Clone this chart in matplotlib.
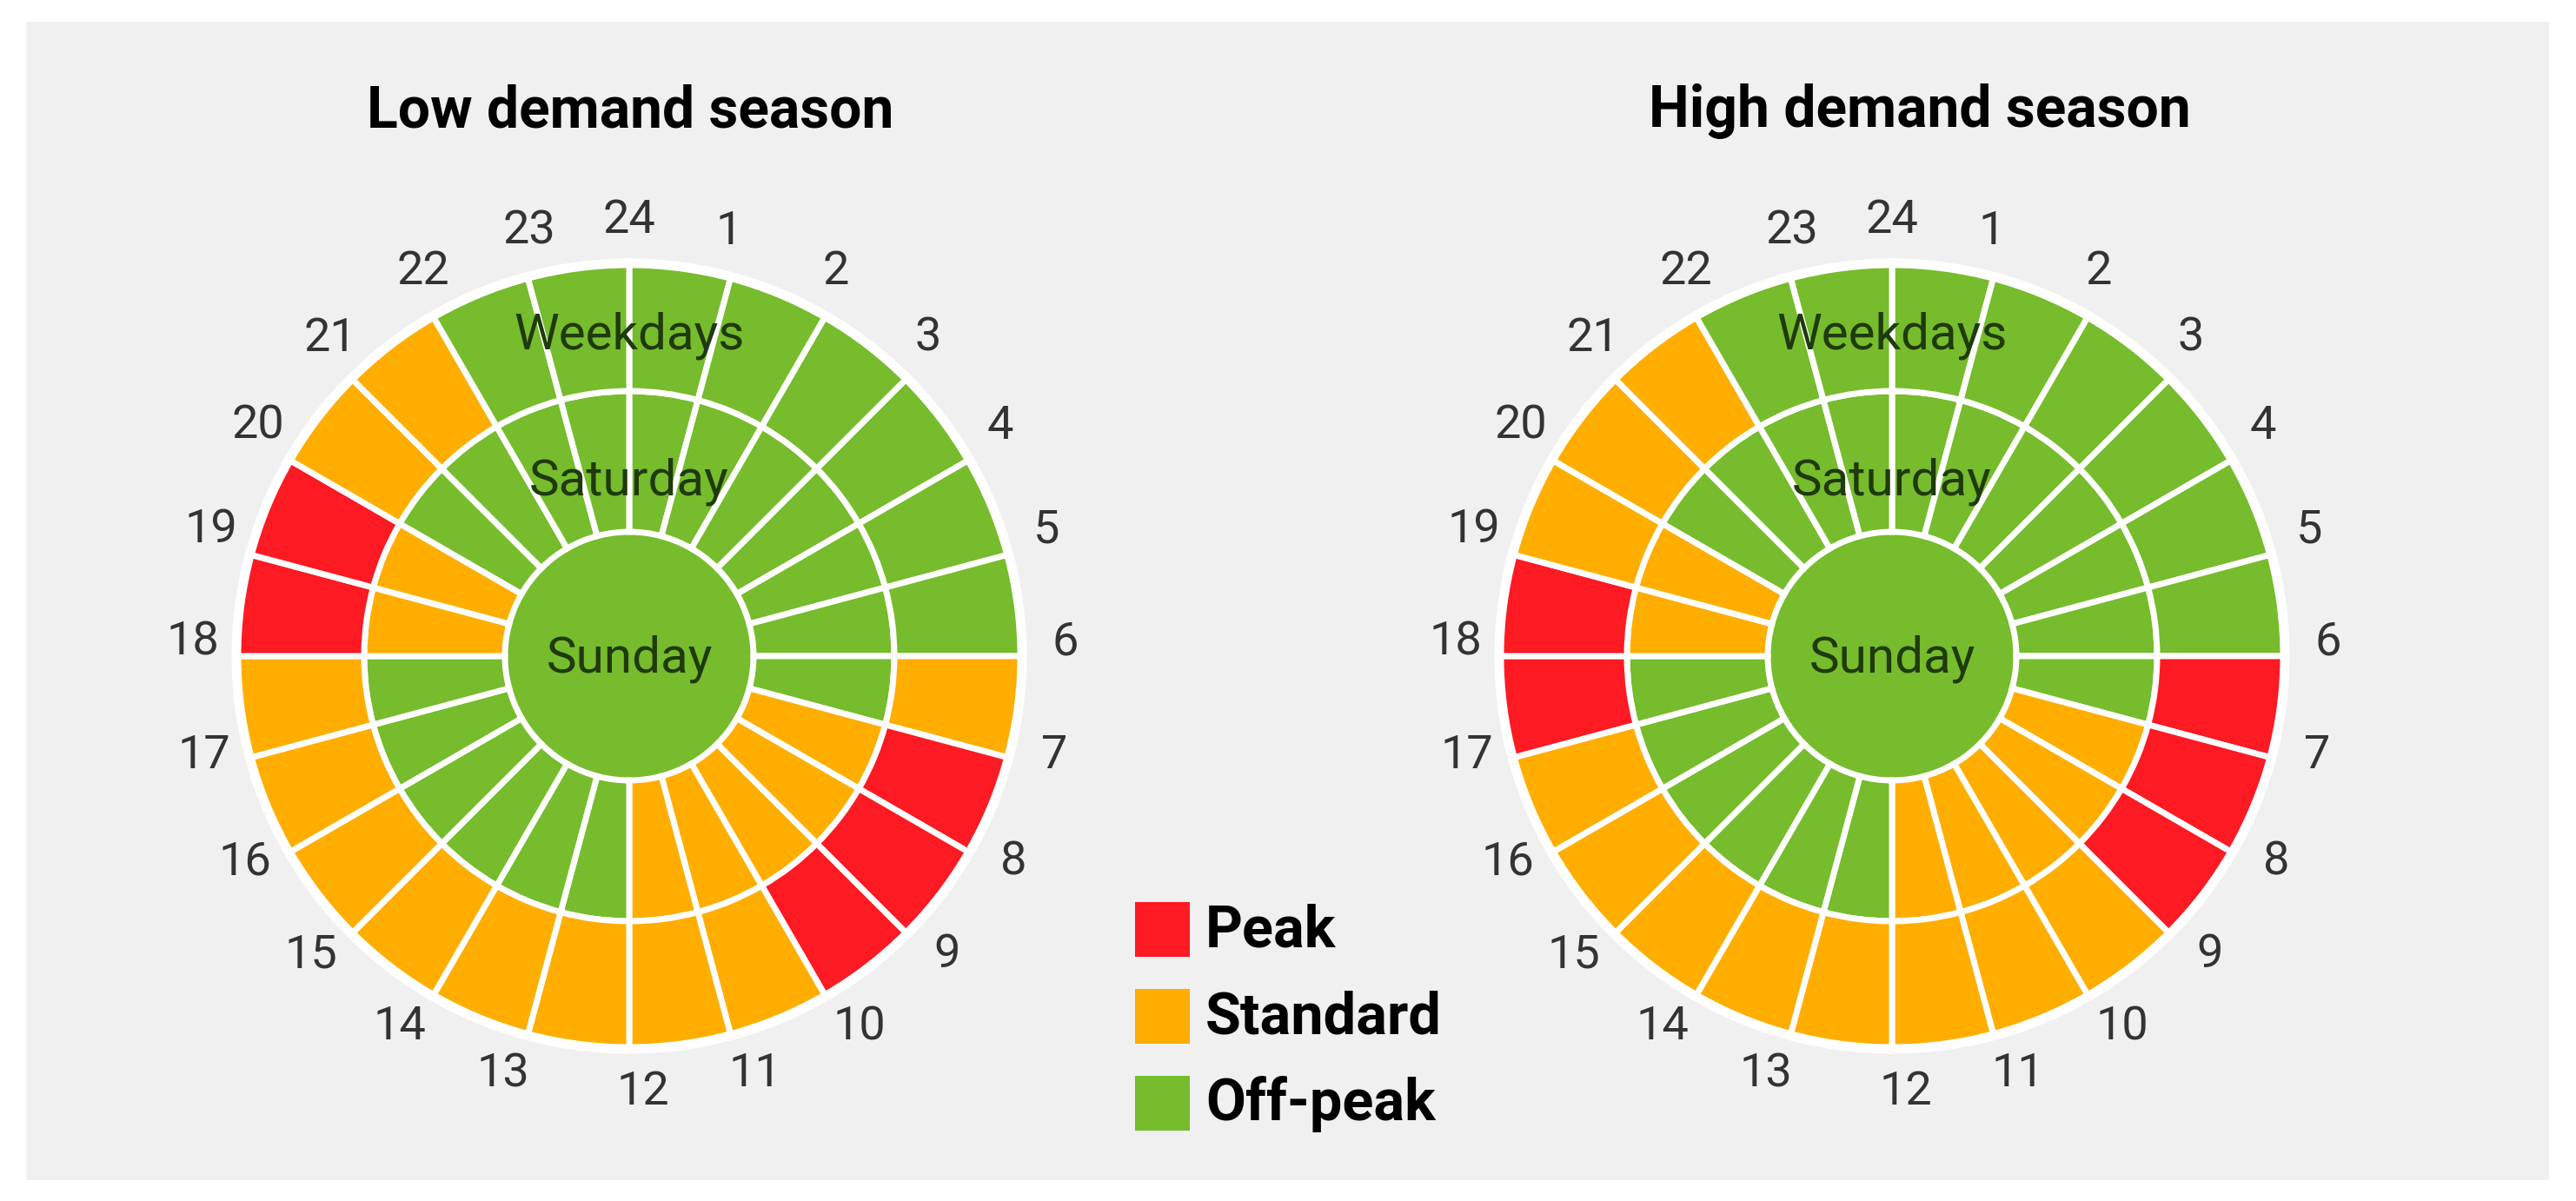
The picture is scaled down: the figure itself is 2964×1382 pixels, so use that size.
import numpy as np
import matplotlib
matplotlib.use('Agg')
import matplotlib.pyplot as plt
from matplotlib.patches import Rectangle

plt.rcParams['font.family'] = ['Roboto', 'DejaVu Sans']

W, H = 2964, 1382

# hour h covers (h-1):00 .. h:00, labels sit on the boundaries
hours = list(range(1, 25))

codes = ['P', 'S', 'O']
names = ['Peak', 'Standard', 'Off-peak']
colors = {'P': '#fd1a23', 'S': '#ffae00', 'O': '#76bc2c'}

low_weekdays = ['O', 'O', 'O', 'O', 'O', 'O', 'S', 'P', 'P', 'P', 'S', 'S',
                'S', 'S', 'S', 'S', 'S', 'S', 'P', 'P', 'S', 'S', 'O', 'O']
low_saturday = ['O', 'O', 'O', 'O', 'O', 'O', 'O', 'S', 'S', 'S', 'S', 'S',
                'O', 'O', 'O', 'O', 'O', 'O', 'S', 'S', 'O', 'O', 'O', 'O']
low_sunday = ['O'] * 24

high_weekdays = ['O', 'O', 'O', 'O', 'O', 'O', 'P', 'P', 'P', 'S', 'S', 'S',
                 'S', 'S', 'S', 'S', 'S', 'P', 'P', 'S', 'S', 'S', 'O', 'O']
high_saturday = ['O', 'O', 'O', 'O', 'O', 'O', 'O', 'S', 'S', 'S', 'S', 'S',
                 'O', 'O', 'O', 'O', 'O', 'O', 'S', 'S', 'O', 'O', 'O', 'O']
high_sunday = ['O'] * 24

titles = ['Low demand season', 'High demand season']

# layout (pixels)
R_PX = 450.0
AX_R = 470.0
R_SUN = 143 / R_PX
R_SAT = 305 / R_PX
R_OUT = 1.0
R_LAB = 502 / R_PX
LAB_NUDGE = np.deg2rad(1.8)   # original labels lean slightly towards the top
DAY_COLOR = '#1f3a0c'


def draw_season(ax, weekdays, saturday, sunday):
    ax.set_theta_zero_location('N')
    ax.set_theta_direction(-1)
    width = 2 * np.pi / 24
    theta = [(h - 1) * width for h in hours]

    sun_c = [colors[c] for c in sunday]
    ax.bar(theta, R_SUN, width=width, bottom=0, align='edge',
           color=sun_c, edgecolor=sun_c, linewidth=1)
    ax.bar(theta, R_SAT - R_SUN, width=width, bottom=R_SUN, align='edge',
           color=[colors[c] for c in saturday], edgecolor='white', linewidth=5)
    ax.bar(theta, R_OUT - R_SAT, width=width, bottom=R_SAT, align='edge',
           color=[colors[c] for c in weekdays], edgecolor='white', linewidth=5)

    t = np.linspace(0, 2 * np.pi, 500)
    ax.plot(t, np.full_like(t, R_OUT + 0.006), color='white', lw=7)

    for h in hours:
        ang = h * width
        if h <= 12:
            ang -= LAB_NUDGE
        elif h < 24:
            ang += LAB_NUDGE
        ax.text(ang, R_LAB, str(h), ha='center', va='center',
                fontsize=39, color='#333333')

    ax.text(0, 354 / R_PX, 'Weekdays', ha='center', va='baseline',
            fontsize=42, color=DAY_COLOR)
    ax.text(0, 186 / R_PX, 'Saturday', ha='center', va='baseline',
            fontsize=42, color=DAY_COLOR)
    ax.text(np.pi, 19 / R_PX, 'Sunday', ha='center', va='baseline',
            fontsize=42, color=DAY_COLOR)

    ax.set_ylim(0, AX_R / R_PX)
    ax.axis('off')


fig = plt.figure(figsize=(W / 100, H / 100), dpi=100)

bg = fig.add_axes([0, 0, 1, 1], zorder=-1)
bg.set_xlim(0, W)
bg.set_ylim(H, 0)
bg.axis('off')
bg.add_patch(Rectangle((30, 25), 2903, 1333, color='#f0f0f0', lw=0))

centers = [(724, 755), (2177, 755)]
title_x = [725, 2209]
seasons = [(low_weekdays, low_saturday, low_sunday),
           (high_weekdays, high_saturday, high_sunday)]

for (cx, cy), tx, title, data in zip(centers, title_x, titles, seasons):
    ax = fig.add_axes([(cx - AX_R) / W, (H - cy - AX_R) / H,
                       2 * AX_R / W, 2 * AX_R / H], projection='polar')
    draw_season(ax, *data)
    bg.text(tx, 146, title, ha='center', va='baseline', fontsize=47.5,
            fontweight='bold', color='black')

# legend
for i, (c, name) in enumerate(zip(codes, names)):
    y0 = 1038 + i * 100
    bg.add_patch(Rectangle((1306, y0), 63, 63, color=colors[c], lw=0))
    bg.text(1387, y0 + 51, name, ha='left', va='baseline', fontsize=48,
            fontweight='bold', color='black')

fig.savefig('out.png', dpi=100)
